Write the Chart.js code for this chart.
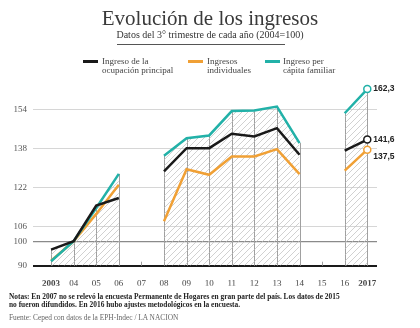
<!DOCTYPE html>
<html>
<head>
<meta charset="utf-8">
<script src="https://cdn.jsdelivr.net/npm/chart.js@4/dist/chart.umd.min.js"></script>
<style>
  body { margin: 0; width: 420px; height: 328px; background: #fff; overflow: hidden; position: relative;
         font-family: "Liberation Serif", "DejaVu Serif", serif; color: #333; }
  #wrap { position: absolute; left: 0; top: 0; width: 420px; height: 328px; }
  .t { position: absolute; white-space: nowrap; }
  .mk { position: absolute; height: 3px; width: 15px; }
  .lg { position: absolute; font-size: 9px; line-height: 9px; color: #444; white-space: nowrap; }
</style>
</head>
<body>
<div id="wrap"><canvas id="c" width="420" height="328"></canvas></div>

<div class="t" style="left:0;width:420px;text-align:center;top:6px;font-size:21px;color:#3a3a3a;">Evolución de los ingresos</div>
<div class="t" style="left:0;width:420px;text-align:center;top:29px;font-size:10px;color:#333;">Datos del 3° trimestre de cada año (2004=100)</div>
<div style="position:absolute;left:117px;top:44px;width:168px;height:1px;background:#555;"></div>

<div class="mk" style="left:83px;top:60px;background:#1a1a1a;"></div>
<div class="lg" style="left:102px;top:57px;">Ingreso de la<br>ocupación principal</div>
<div class="mk" style="left:188px;top:60px;background:#f0a035;"></div>
<div class="lg" style="left:207px;top:57px;">Ingresos<br>individuales</div>
<div class="mk" style="left:265px;top:60px;background:#22b1a8;"></div>
<div class="lg" style="left:283px;top:57px;">Ingreso per<br>cápita familiar</div>

<div class="t" style="left:9px;top:293px;font-size:7.4px;line-height:8px;font-weight:bold;color:#222;">Notas: En 2007 no se relevó la encuesta Permanente de Hogares en gran parte del país. Los datos de 2015<br>no fueron difundidos. En 2016 hubo ajustes metodológicos en la encuesta.</div>
<div class="t" style="left:9px;top:313px;font-size:7.4px;color:#666;">Fuente: Ceped con datos de la EPH-Indec  / LA NACION</div>

<script>
// Years on the horizontal axis and their printed labels
const years = [2003, 2004, 2005, 2006, 2007, 2008, 2009, 2010, 2011, 2012, 2013, 2014, 2015, 2016, 2017];
const yearLabels = ['2003', '04', '05', '06', '07', '08', '09', '10', '11', '12', '13', '14', '15', '16', '2017'];

// Index values (2004 = 100); 2007 and 2015 have no data
const ocupacionPrincipal = [96.6, 100, 114.6, 117.7, null, 128.6, 138.1, 138.1, 144.0, 142.9, 146.3, 135.4, null, 137.1, 141.6];
const ingresosIndividuales = [92.0, 100, 111.2, 123.1, null, 108.2, 129.5, 127.2, 134.7, 134.7, 137.7, 127.5, null, 128.9, 137.5];
const perCapitaFamiliar = [91.8, 100, 113.6, 127.6, null, 135.0, 142.2, 143.3, 153.3, 153.5, 155.1, 140.2, null, 152.4, 162.3];

const yTicks = [90, 100, 106, 122, 138, 154];

const COLORS = { black: '#1a1a1a', orange: '#f0a035', teal: '#22b1a8' };
const last = years.length - 1;

const toPoints = arr => years.map((x, i) => ({ x, y: arr[i] }));
const topValue = years.map((x, i) => {
  const v = [ocupacionPrincipal[i], ingresosIndividuales[i], perCapitaFamiliar[i]].filter(n => n !== null);
  return { x, y: v.length ? Math.max(...v) : null };
});

// diagonal hatch used under the curves
function hatchPattern() {
  const s = 6;
  const p = document.createElement('canvas');
  p.width = s; p.height = s;
  const g = p.getContext('2d');
  g.strokeStyle = '#bdbdbd';
  g.lineWidth = 0.7;
  g.beginPath();
  g.moveTo(0, s); g.lineTo(s, 0);
  g.moveTo(-1, 1); g.lineTo(1, -1);
  g.moveTo(s - 1, s + 1); g.lineTo(s + 1, s - 1);
  g.stroke();
  return g.createPattern(p, 'repeat');
}

const lineDataset = (label, arr, color, order) => ({
  label, data: toPoints(arr), borderColor: color, borderWidth: 2.5,
  fill: false, spanGaps: false, tension: 0, order,
  pointRadius: ctx => (ctx.dataIndex === last ? 3.5 : 0),
  pointBackgroundColor: '#fff', pointBorderColor: color, pointBorderWidth: 1.5
});

// vertical year lines inside the hatched area, and short ticks on empty years
const yearLines = {
  id: 'yearLines',
  beforeDatasetsDraw(chart) {
    const { ctx, scales: { x, y } } = chart;
    const base = y.getPixelForValue(90);
    ctx.save();
    ctx.strokeStyle = '#a0a0a0';
    ctx.lineWidth = 1;
    topValue.forEach(p => {
      const px = Math.round(x.getPixelForValue(p.x)) + 0.5;
      const top = p.y === null ? base - 4 : y.getPixelForValue(p.y);
      ctx.beginPath();
      ctx.moveTo(px, base);
      ctx.lineTo(px, top);
      ctx.stroke();
    });
    ctx.restore();
  }
};

// value labels next to the 2017 points
const endLabels = {
  id: 'endLabels',
  afterDatasetsDraw(chart) {
    const { ctx, scales: { x, y } } = chart;
    const items = [
      { v: perCapitaFamiliar[last], dy: 0 },
      { v: ocupacionPrincipal[last], dy: 0 },
      { v: ingresosIndividuales[last], dy: 7 }
    ];
    ctx.save();
    ctx.font = 'bold 8.5px "Liberation Sans", sans-serif';
    ctx.fillStyle = '#222';
    ctx.textBaseline = 'middle';
    items.forEach(it => {
      ctx.fillText(it.v.toFixed(1).replace('.', ','), x.getPixelForValue(years[last]) + 6, y.getPixelForValue(it.v) + it.dy);
    });
    ctx.restore();
  }
};

new Chart(document.getElementById('c'), {
  type: 'line',
  data: {
    datasets: [
      lineDataset('Ingreso de la ocupación principal', ocupacionPrincipal, COLORS.black, 1),
      lineDataset('Ingreso per cápita familiar', perCapitaFamiliar, COLORS.teal, 2),
      lineDataset('Ingresos individuales', ingresosIndividuales, COLORS.orange, 3),
      {
        label: 'area', data: topValue, borderWidth: 0, pointRadius: 0,
        backgroundColor: hatchPattern(), fill: 'start', spanGaps: false, order: 4
      }
    ]
  },
  options: {
    responsive: false,
    animation: false,
    events: [],
    layout: { padding: { left: 0, right: 43, top: 80, bottom: 42.3 } },
    plugins: { legend: { display: false }, tooltip: { enabled: false } },
    scales: {
      x: {
        type: 'linear', min: 2002.2, max: 2017.43,
        afterBuildTicks: s => { s.ticks = years.map(v => ({ value: v })); },
        afterFit: s => { s.height = 20; },
        grid: { display: false },
        border: { display: false },
        ticks: {
          autoSkip: false, maxRotation: 0, padding: 5, color: '#444',
          font: ctx => ({ family: '"Liberation Serif", serif', size: 9,
                          weight: (ctx.tick && (ctx.tick.value === 2003 || ctx.tick.value === 2017)) ? 'bold' : 'normal' }),
          callback: v => yearLabels[years.indexOf(v)]
        }
      },
      y: {
        min: 90, max: 166,
        afterBuildTicks: s => { s.ticks = yTicks.map(v => ({ value: v })); },
        afterFit: s => { s.width = 33; },
        border: { display: false },
        grid: {
          drawTicks: false,
          color: ctx => ctx.tick.value === 90 ? '#1a1a1a' : ctx.tick.value === 100 ? '#8a8a8a' : '#d6d6d6',
          lineWidth: ctx => ctx.tick.value === 90 ? 2 : ctx.tick.value === 100 ? 1.3 : 1
        },
        ticks: { padding: 6, color: '#555', font: { family: '"Liberation Serif", serif', size: 9 } }
      }
    }
  },
  plugins: [yearLines, endLabels]
});
</script>
</body>
</html>
